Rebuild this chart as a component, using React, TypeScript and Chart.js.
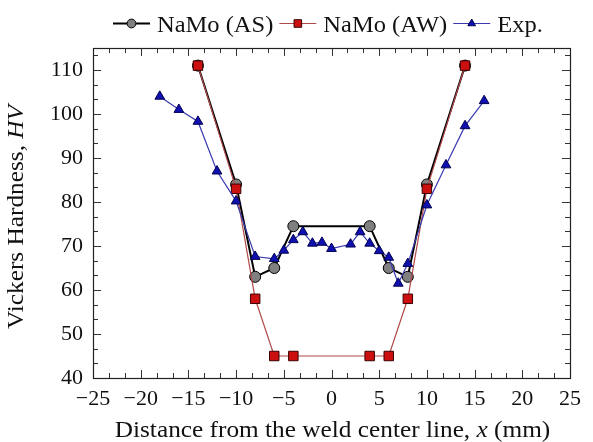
import React, { useEffect, useRef } from "react";
import { Chart, registerables } from "chart.js";

Chart.register(...registerables);

const asX = [-14, -10, -8, -6, -4, 4, 6, 8, 10, 14];
const asY = [111, 84, 63, 65, 74.5, 74.5, 65, 63, 84, 111];

const awX = [-14, -10, -8, -6, -4, 4, 6, 8, 10, 14];
const awY = [111, 83, 58, 45, 45, 45, 45, 58, 83, 111];

const expX = [-18, -16, -14, -12, -10, -8, -6, -5, -4, -3, -2, -1, 0, 2, 3, 4, 5, 6, 7, 8, 10, 12, 14, 16];
const expY = [104, 101, 98.3, 87, 80.2, 67.6, 67.1, 69, 71.4, 73.2, 70.6, 70.8, 69.4, 70.4, 73.2, 70.6, 68.9, 67.4, 61.5, 66, 79.3, 88.4, 97.3, 103];

const seriesNames = ["NaMo (AS)", "NaMo (AW)", "Exp."];
const xTitleParts = [
  { t: "Distance from the weld center line, ", i: false },
  { t: "x", i: true },
  { t: " (mm)", i: false },
];
const yTitleParts = [
  { t: "Vickers Hardness, ", i: false },
  { t: "HV", i: true },
];

const FONT = "'Liberation Serif', 'Times New Roman', serif";
const TEXT_SIZE = 23;
const SX = 1.1;
const LEG_SX = 1.065;

const toPts = (xs: number[], ys: number[]) => xs.map((x, i) => ({ x, y: ys[i] }));

const styles = [
  { line: "#000000", lw: 2, fill: "#808080", border: "#000000", shape: "circle", r: 5.5 },
  { line: "#b04a4a", lw: 1.2, fill: "#cc1010", border: "#3a0000", shape: "rect", r: 6.7 },
  { line: "#3a3ab0", lw: 1.2, fill: "#1010b0", border: "#000050", shape: "triangle", r: 5.6 },
];

function drawMarker(ctx: CanvasRenderingContext2D, shape: string, x: number, y: number, r: number, fill: string, border: string) {
  ctx.save();
  ctx.beginPath();
  if (shape === "circle") {
    ctx.arc(x, y, r, 0, Math.PI * 2);
  } else if (shape === "rect") {
    const s = Math.SQRT1_2 * r;
    ctx.rect(x - s, y - s, 2 * s, 2 * s);
  } else {
    let a = 0;
    ctx.moveTo(x + Math.sin(a) * r, y - Math.cos(a) * r);
    a += (2 * Math.PI) / 3;
    ctx.lineTo(x + Math.sin(a) * r, y - Math.cos(a) * r);
    a += (2 * Math.PI) / 3;
    ctx.lineTo(x + Math.sin(a) * r, y - Math.cos(a) * r);
    ctx.closePath();
  }
  ctx.fillStyle = fill;
  ctx.fill();
  ctx.lineWidth = 1;
  ctx.strokeStyle = border;
  ctx.stroke();
  ctx.restore();
}

function drawParts(ctx: CanvasRenderingContext2D, parts: { t: string; i: boolean }[], size: number) {
  const widths = parts.map((p) => {
    ctx.font = `${p.i ? "italic " : ""}${size}px ${FONT}`;
    return ctx.measureText(p.t).width;
  });
  const total = widths.reduce((a, b) => a + b, 0);
  let x = -total / 2;
  ctx.scale(SX, 1);
  parts.forEach((p, k) => {
    ctx.font = `${p.i ? "italic " : ""}${size}px ${FONT}`;
    ctx.fillText(p.t, x, 0);
    x += widths[k];
  });
}

const decor = {
  id: "decor",
  beforeDatasetsDraw(chart: any) {
    const { ctx, chartArea: a, scales } = chart;
    const xs = scales.x;
    const ys = scales.y;
    ctx.save();
    ctx.strokeStyle = "#333333";
    ctx.lineWidth = 1;
    for (let v = -25; v <= 25 + 1e-6; v += 5 / 3) {
      const major = Math.abs(Math.round(v / 5) * 5 - v) < 1e-6;
      const len = major ? 8 : 5;
      const px = Math.round(xs.getPixelForValue(v)) + 0.5;
      ctx.beginPath();
      ctx.moveTo(px, a.bottom);
      ctx.lineTo(px, a.bottom - len);
      ctx.moveTo(px, a.top);
      ctx.lineTo(px, a.top + len);
      ctx.stroke();
    }
    for (let v = 40; v <= 115 + 1e-6; v += 10 / 3) {
      const major = Math.abs(Math.round(v / 10) * 10 - v) < 1e-6;
      const len = major ? 8 : 5;
      const py = Math.round(ys.getPixelForValue(v)) + 0.5;
      ctx.beginPath();
      ctx.moveTo(a.left, py);
      ctx.lineTo(a.left + len, py);
      ctx.moveTo(a.right, py);
      ctx.lineTo(a.right - len, py);
      ctx.stroke();
    }
    ctx.lineWidth = 1.2;
    ctx.strokeStyle = "#222222";
    ctx.strokeRect(Math.round(a.left) + 0.5, Math.round(a.top) + 0.5, Math.round(a.right - a.left), Math.round(a.bottom - a.top));
    ctx.restore();
  },
  afterDraw(chart: any) {
    const { ctx } = chart;
    ctx.save();
    ctx.fillStyle = "#111111";
    ctx.textBaseline = "alphabetic";
    ctx.textAlign = "left";
    // x title
    ctx.save();
    ctx.translate(332.5, 437);
    drawParts(ctx, xTitleParts, TEXT_SIZE);
    ctx.restore();
    // y title
    ctx.save();
    ctx.translate(23, 217);
    ctx.rotate(-Math.PI / 2);
    drawParts(ctx, yTitleParts, TEXT_SIZE);
    ctx.restore();
    // legend
    let x = 113;
    const yc = 23.5;
    seriesNames.forEach((name, k) => {
      const s = styles[k];
      ctx.beginPath();
      ctx.strokeStyle = s.line;
      ctx.lineWidth = s.lw;
      ctx.moveTo(x, yc);
      ctx.lineTo(x + 37, yc);
      ctx.stroke();
      drawMarker(ctx, s.shape, x + 18.5, yc, s.r * 0.8, s.fill, s.border);
      ctx.font = `${TEXT_SIZE}px ${FONT}`;
      const w = ctx.measureText(name).width * LEG_SX;
      ctx.save();
      ctx.fillStyle = "#111111";
      ctx.textBaseline = "alphabetic";
      ctx.translate(x + 44, 31.5);
      ctx.scale(LEG_SX, 1);
      ctx.fillText(name, 0, 0);
      ctx.restore();
      x = x + 44 + w + 6;
    });
    ctx.restore();
  },
};

export default function App() {
  const ref = useRef<HTMLCanvasElement | null>(null);
  useEffect(() => {
    document.body.style.margin = "0";
    const canvas = ref.current;
    if (!canvas) return;
    const mk = (k: number, data: any) => ({
      label: seriesNames[k],
      data,
      borderColor: styles[k].line,
      borderWidth: styles[k].lw,
      backgroundColor: styles[k].fill,
      pointBackgroundColor: styles[k].fill,
      pointBorderColor: styles[k].border,
      pointBorderWidth: 1,
      pointStyle: styles[k].shape,
      pointRadius: styles[k].r,
      showLine: true,
      tension: 0,
      fill: false,
    });
    const chart = new Chart(canvas, {
      type: "scatter",
      data: {
        datasets: [
          { ...mk(2, toPts(expX, expY)), order: 0 },
          { ...mk(1, toPts(awX, awY)), order: 1 },
          { ...mk(0, toPts(asX, asY)), order: 2 },
        ],
      },
      options: {
        animation: false,
        responsive: false,
        maintainAspectRatio: false,
        layout: { padding: { left: 0, right: 23, top: 48, bottom: 0 } },
        plugins: { legend: { display: false }, tooltip: { enabled: false } },
        scales: {
          x: {
            type: "linear",
            min: -25,
            max: 25,
            grid: { display: false, drawTicks: false },
            border: { display: false },
            afterFit: (s: any) => {
              s.height = 64;
            },
            ticks: {
              stepSize: 5,
              includeBounds: false,
              padding: 8,
              color: "#111111",
              font: { family: FONT, size: 22 },
              maxRotation: 0,
              callback: (v: any) => (v < 0 ? "\u2212" + Math.abs(v) : String(v)),
            },
          },
          y: {
            type: "linear",
            min: 40,
            max: 115,
            grid: { display: false, drawTicks: false },
            border: { display: false },
            afterFit: (s: any) => {
              s.width = 93;
            },
            ticks: {
              stepSize: 10,
              includeBounds: false,
              padding: 10,
              color: "#111111",
              font: { family: FONT, size: 22 },
              callback: (v: any) => String(v),
            },
          },
        },
      },
      plugins: [decor],
    } as any);
    return () => chart.destroy();
  }, []);
  return (
    <div style={{ width: 593, height: 442, background: "#fff" }}>
      <canvas ref={ref} width={593} height={442} style={{ display: "block" }} />
    </div>
  );
}
